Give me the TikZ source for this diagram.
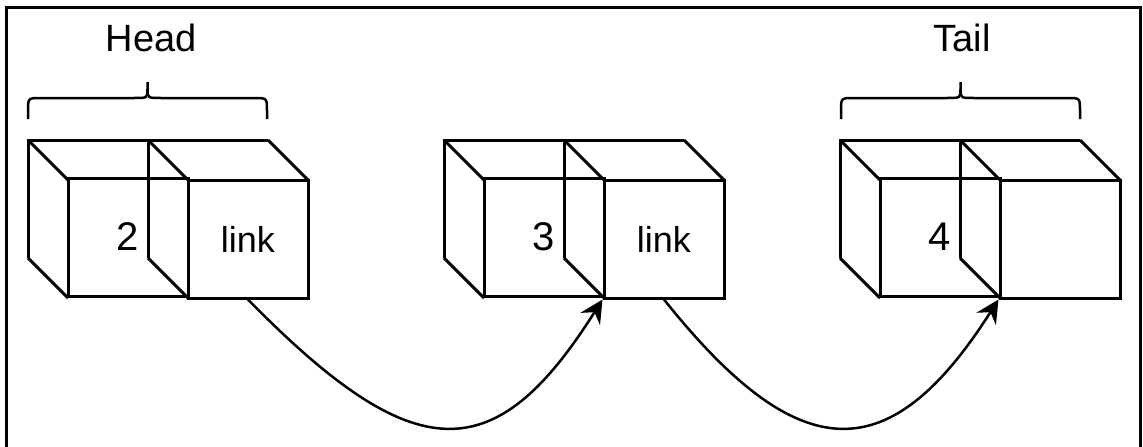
\documentclass[tikz,border=0pt]{standalone}
\usepackage{fontspec}
\setmainfont{Liberation Sans}
\usetikzlibrary{arrows.meta}
\tikzset{
  edge/.style={line width=3pt, line join=miter},
  face/.style={draw, line width=3pt, minimum width=120pt, minimum height=118pt, inner sep=0pt, font=\fontsize{40}{46}\selectfont},
  linkface/.style={face, font=\fontsize{36}{44}\selectfont},
  title/.style={inner sep=0pt, font=\fontsize{38}{46}\selectfont},
  bracepath/.style={line width=2.5pt, line cap=butt},
  pointer/.style={line width=2.5pt, -{Stealth[length=23pt,width=23pt,inset=8pt]}},
  frame/.style={line width=3pt}
}
\newcommand{\cubeback}[1]{%
  \begin{scope}[shift={(#1,0)}]
    \draw[edge] (0,258) -- (0,140) -- (240,140);
    \draw[edge] (120,140) -- (120,258);
    \draw[edge] (0,140) -- (40,180);
    \draw[edge] (120,140) -- (160,180);
    \draw[edge] (240,140) -- (280,180);
    \draw[edge] (0,258) -- (40,298);
    \draw[edge] (120,258) -- (160,298);
  \end{scope}}
\newcommand{\bracetop}[1]{%
  \begin{scope}[shift={(#1,0)}]
    \draw[bracepath] (0,119) -- (0,111) .. controls (0,98) and (0,98) .. (13,98)
      -- (106,98) .. controls (119.5,98) and (119.5,98) .. (119.5,89) -- (119.5,82);
    \draw[bracepath] (239,119) -- (239,111) .. controls (239,98) and (239,98) .. (226,98)
      -- (133,98) .. controls (119.5,98) and (119.5,98) .. (119.5,89);
  \end{scope}}
\begin{document}
\begin{tikzpicture}[x=1pt,y=-1pt]
  \useasboundingbox (0,0) rectangle (1143,447);
  % frame
  \draw[frame] (6.5,450) -- (6.5,7.5) -- (1140,7.5) -- (1140,450);

  % titles and braces
  \node[title] (head) at (151,38) {Head};
  \node[title] (tail) at (962,38) {Tail};
  \bracetop{28}
  \bracetop{841}

  % cubes
  \cubeback{28}
  \cubeback{444}
  \cubeback{840}

  \node[face] (a1) at (128,237) {2};
  \node[linkface] (b1) at (248,239) {link};
  \node[face] (a2) at (544,237) {3};
  \node[linkface] (b2) at (664,239) {link};
  \node[face] (a3) at (940,237) {4};
  \node[linkface] (b3) at (1060,239) {};

  % pointers
  \draw[pointer] (b1.south) .. controls (415,470) and (495,470) .. (b2.south west);
  \draw[pointer] (b2.south) .. controls (800,470) and (890,470) .. (b3.south west);
\end{tikzpicture}
\end{document}
